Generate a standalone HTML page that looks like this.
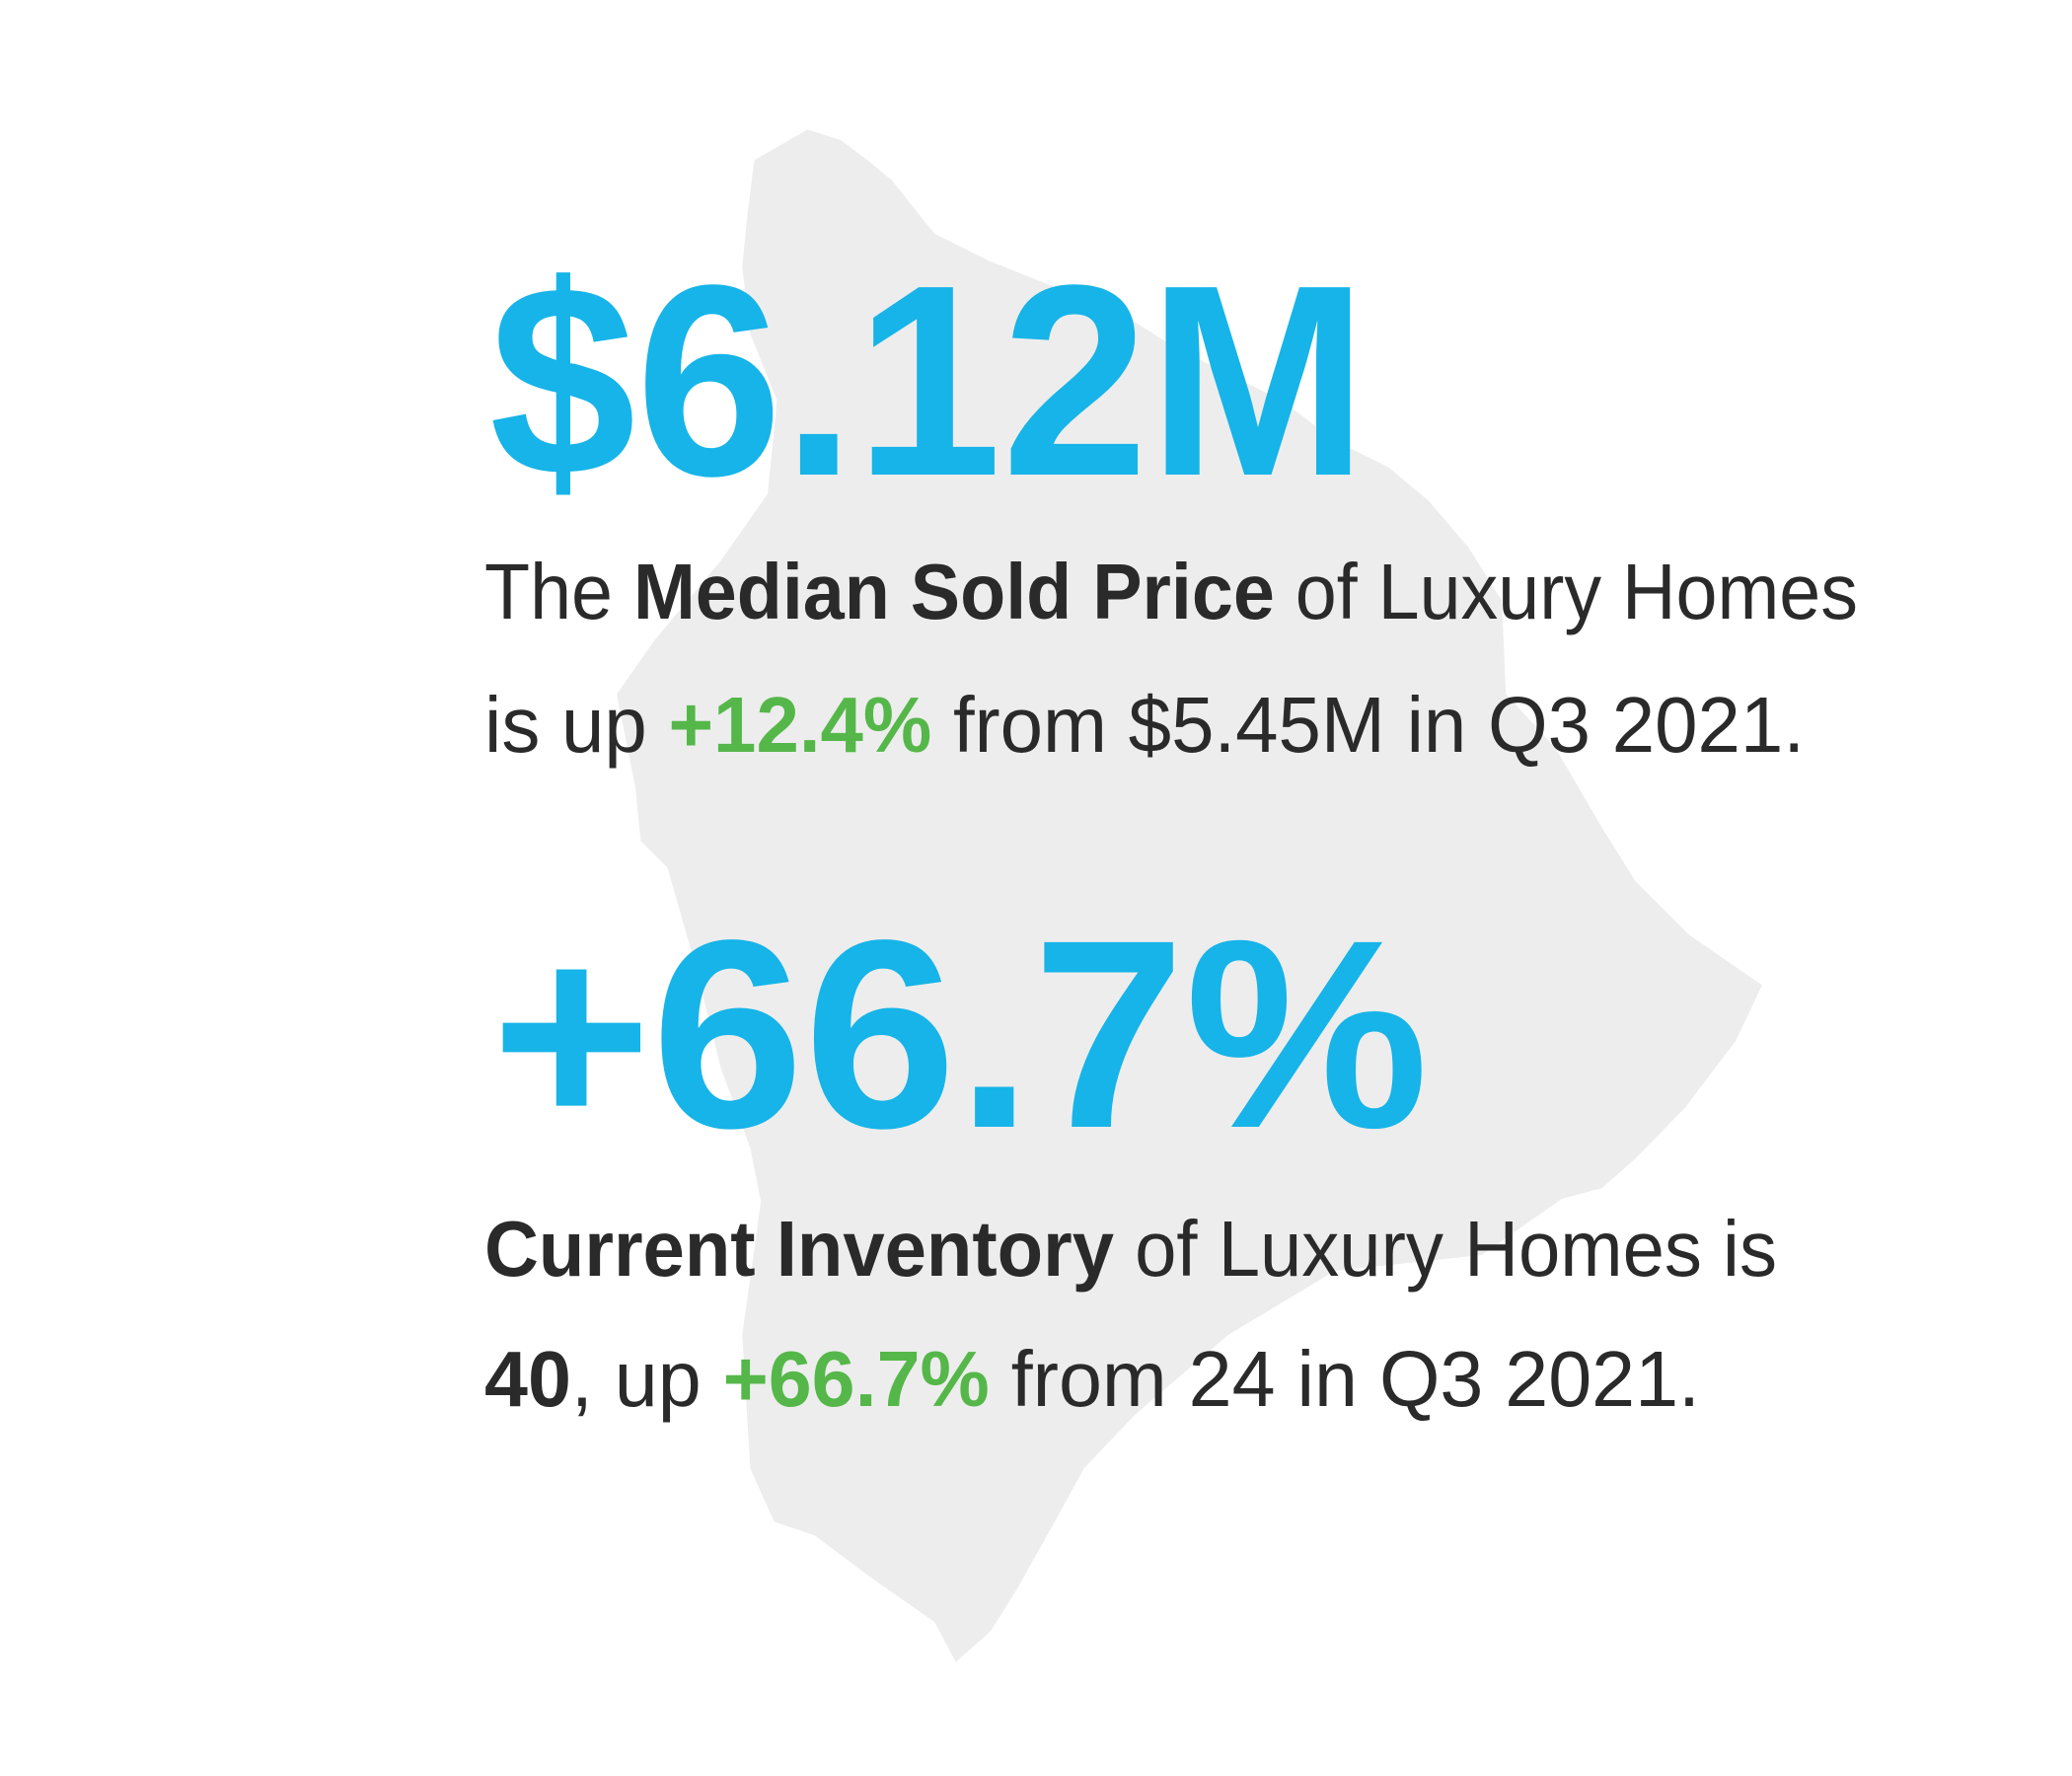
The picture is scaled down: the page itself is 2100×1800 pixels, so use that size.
<!DOCTYPE html>
<html><head><meta charset="utf-8"><style>html,body{margin:0;padding:0;background:#fff}svg{display:block}</style></head>
<body>
<svg width="2100" height="1800" viewBox="0 0 2100 1800" xmlns="http://www.w3.org/2000/svg">
<g transform="scale(1.353)">
<polygon fill="#ededed" points="605,97 630,105 650,120 668,135 680,150 700,175 740,195 790,215 840,235 880,260 920,280 960,300 1000,330 1040,350 1070,375 1100,410 1125,450 1128,520 1165,560 1200,620 1225,660 1265,700 1320,738 1300,780 1262,830 1225,868 1200,890 1170,898 1110,940 1000,952 920,1000 850,1060 812,1100 790,1140 762,1190 742,1222 716,1245 700,1215 650,1180 610,1150 580,1140 562,1100 556,1000 570,900 562,860 540,800 520,720 500,650 480,630 476,590 462,520 490,480 540,420 575,370 582,300 562,250 556,200 560,160 565,120"/>
</g>
<g font-family="Liberation Sans, sans-serif">
<text x="496" y="481" font-size="276" font-weight="bold" fill="#16b4e8" textLength="890" lengthAdjust="spacingAndGlyphs">$6.12M</text>
<text x="491" y="627" font-size="80" fill="#2a2a2a" textLength="1392" lengthAdjust="spacingAndGlyphs">The <tspan font-weight="bold">Median Sold Price</tspan> of Luxury Homes</text>
<text x="491" y="762" font-size="80" fill="#2a2a2a" textLength="1338" lengthAdjust="spacingAndGlyphs">is up <tspan font-weight="bold" fill="#55b749">+12.4%</tspan> from $5.45M in Q3 2021.</text>
<text x="498" y="1142" font-size="272" font-weight="bold" fill="#16b4e8" textLength="950" lengthAdjust="spacingAndGlyphs">+66.7%</text>
<text x="491" y="1293" font-size="80" fill="#2a2a2a" textLength="1310" lengthAdjust="spacingAndGlyphs"><tspan font-weight="bold">Current Inventory</tspan> of Luxury Homes is</text>
<text x="491" y="1425" font-size="80" fill="#2a2a2a" textLength="1232" lengthAdjust="spacingAndGlyphs"><tspan font-weight="bold">40</tspan>, up <tspan font-weight="bold" fill="#55b749">+66.7%</tspan> from 24 in Q3 2021.</text>
</g>
</svg>
</body></html>
